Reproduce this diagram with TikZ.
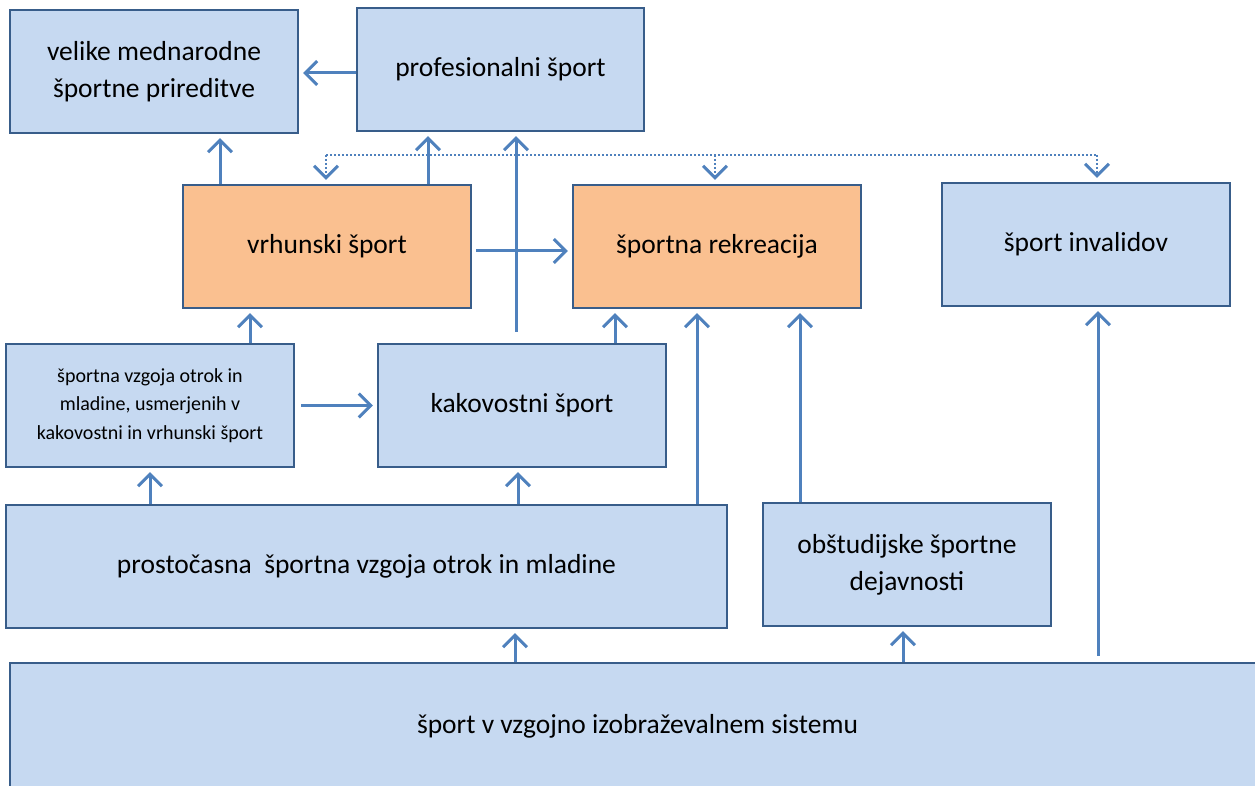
\documentclass[tikz,border=0pt]{standalone}
\usepackage{fontspec}
\setmainfont{Carlito}
\usepackage{tikz}
\usetikzlibrary{arrows.meta, positioning}

\definecolor{boxblue}{HTML}{C6D9F1}
\definecolor{boxline}{HTML}{385D8A}
\definecolor{boxorange}{HTML}{FAC090}
\definecolor{arrblue}{HTML}{4F81BD}

\begin{document}
\begin{tikzpicture}[
    x=1pt, y=-1pt,
    box/.style={rectangle, draw=boxline, line width=2.2pt, fill=boxblue,
      minimum width=288pt, minimum height=123pt, align=center,
      font=\fontsize{27.5}{37}\selectfont},
    hot/.style={box, fill=boxorange},
    arr/.style={draw=arrblue, line width=3pt, shorten >=4pt, shorten <=0pt,
      -{Straight Barb[length=12pt, width=24pt, line width=3pt]}},
    dotarr/.style={draw=arrblue, line width=2pt, dotted,
      -{Straight Barb[length=12pt, width=24pt, line width=3pt]}}
  ]
    \useasboundingbox (0,0) rectangle (1255,786);

    % nodes
    \node[box] (V)  at (154,71.5)  {velike mednarodne\\športne prireditve};
    \node[box, minimum width=287pt] (P)  at (500.5,69.5) {profesionalni šport};
    \node[hot] (VR) at (327,246.5) {vrhunski šport};
    \node[hot] (SR) at (717,246.5) {športna rekreacija};
    \node[box] (SI) at (1086,244.5) {šport invalidov};
    \node[box, font=\fontsize{20}{28.5}\selectfont] (SV) at (150,405.5)
      {športna vzgoja otrok in\\mladine, usmerjenih v\\kakovostni in vrhunski šport};
    \node[box] (K)  at (522,405.5) {kakovostni šport};
    \node[box, minimum width=721pt] (PR) at (366.5,566.5)
      {prostočasna~ športna vzgoja otrok in mladine};
    \node[box] (O)  at (907,564.5) {obštudijske športne\\dejavnosti};
    \node[box, minimum width=1260pt, minimum height=127pt] (VS) at (640,726.5)
      {\hspace*{-5pt}šport v vzgojno izobraževalnem sistemu};

    % arrows
    \draw[arr] (P.west |- 0,73) -- (V.east |- 0,73);
    \draw[arr] ([xshift=-107pt]VR.north) -- ([xshift=-107pt]VR.north |- V.south);
    \draw[arr] ([xshift=101pt]VR.north) -- ([xshift=101pt]VR.north |- P.south);
    \draw[arr] ([xshift=-6pt,yshift=11pt]K.north) -- ([xshift=-6pt]K.north |- P.south);
    \draw[arr] ([xshift=4pt]VR.east |- 0,251) -- (SR.west |- 0,251);
    \draw[arr] ([xshift=100pt]SV.north) -- ([xshift=100pt]SV.north |- VR.south);
    \draw[arr] ([xshift=93pt]K.north) -- ([xshift=93pt]K.north |- SR.south);
    \draw[arr] ([xshift=6pt]SV.east) -- (K.west |- SV.east);
    \draw[arr] (SV.south |- PR.north) -- (SV.south);
    \draw[arr] ([xshift=-4pt]K.south |- PR.north) -- ([xshift=-4pt]K.south);
    \draw[arr] ([xshift=-20pt]SR.south |- PR.north) -- ([xshift=-20pt]SR.south);
    \draw[arr] ([xshift=83pt]SR.south |- O.north) -- ([xshift=83pt]SR.south);
    \draw[arr] ([xshift=148.5pt]PR.south |- VS.north) -- ([xshift=148.5pt]PR.south);
    \draw[arr] ([xshift=-4pt]O.south |- VS.north) -- ([xshift=-4pt]O.south);
    \draw[arr] ([xshift=12pt,yshift=6pt]SI.south |- VS.north) -- ([xshift=12pt]SI.south);

    % dotted branch
    \coordinate (d1) at (326,155);
    \coordinate (d2) at (715,155);
    \coordinate (d3) at (1097,155);
    \draw[draw=arrblue, line width=2pt, dotted] (d1) -- (d3);
    \draw[dotarr, shorten >=4pt] (d1) -- (d1 |- VR.north);
    \draw[dotarr, shorten >=4pt] (d2) -- (d2 |- SR.north);
    \draw[dotarr, shorten >=4pt] (d3) -- (d3 |- SI.north);
  \end{tikzpicture}
\end{document}
